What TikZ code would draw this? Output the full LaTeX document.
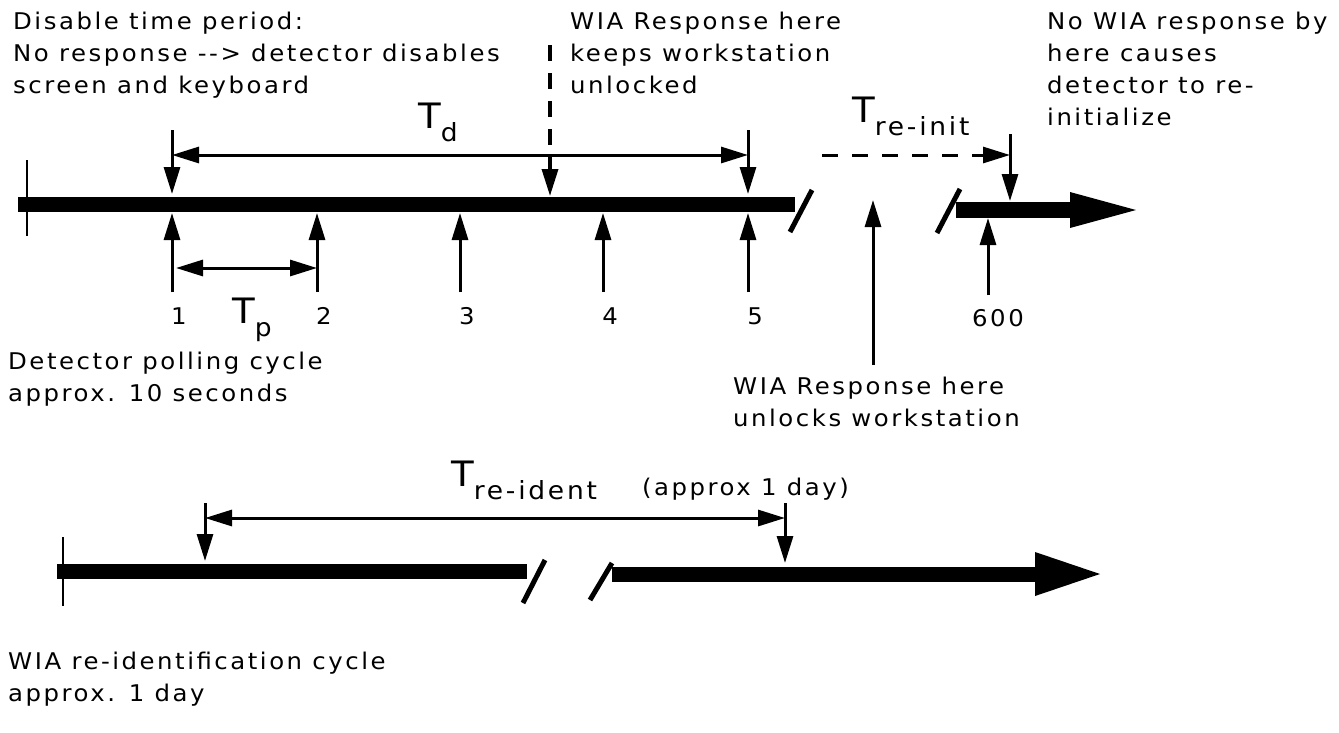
\documentclass[tikz,border=0pt]{standalone}
\usepackage{fontspec}
\setmainfont{DejaVu Sans}[LetterSpace=11,FakeStretch=1.06]
\usetikzlibrary{arrows.meta}
\tikzset{>={Triangle[length=27pt,width=16pt]}}
\tikzset{
  conn/.style={line width=3pt},
  brk/.style={line width=5pt},
  tick/.style={line width=2.5pt},
  txt/.style={anchor=north west, align=left, inner sep=0pt, font=\fontsize{23}{32}\selectfont},
  num/.style={inner sep=0pt, font=\fontsize{23}{26}\selectfont},
  tlab/.style={anchor=base west, inner sep=0pt},
}
\newcommand{\bigT}[1]{{\fontsize{35}{40}\selectfont T}\raisebox{-13pt}{\fontsize{25}{28}\selectfont #1}}

\begin{document}
\begin{tikzpicture}[x=1pt,y=-1pt]
  \useasboundingbox (0,0) rectangle (1339,732);

  % upper time line
  \fill (18,197) rectangle (795,212);
  \draw[tick] (27,160) -- (27,236);
  \draw[brk] (790,232) -- (812,190);
  \draw[brk] (937,233) -- (960,189);
  \fill (956,202) rectangle (1070,218);
  \fill (1070,192) -- (1136,210) -- (1070,228) -- cycle;

  % polling points
  \foreach \x/\n in {172/1,317/2,460/3,603/4,748/5}{
    \coordinate (p\n) at (\x,213);
    \coordinate (q\n) at (\x,292);
    \draw[conn,->] (q\n) -- (p\n);
    \node[num] (n\n) at (\x+7,316) {\n};
  }
  \coordinate (p600) at (988,218);
  \coordinate (q600) at (988,295);
  \draw[conn,->] (q600) -- (p600);
  \node[num] (n600) at (998,318) {600};

  % disable period
  \coordinate (dl) at (172,130);
  \coordinate (dlt) at (172,194);
  \coordinate (dr) at (748,130);
  \coordinate (drt) at (748,194);
  \draw[conn,->] (dl) -- (dlt);
  \draw[conn,->] (dr) -- (drt);
  \draw[conn,<->] (172,155) -- (748,155);
  \node[tlab] (Td) at (418,128) {\bigT{d}};

  % Tp
  \draw[conn,<->] (176,268) -- (317,268);
  \node[tlab] (Tp) at (232,323) {\bigT{p}};

  % WIA response keeps unlocked
  \coordinate (wk) at (550,45);
  \coordinate (wkt) at (550,196);
  \draw[line width=3.5pt,dash pattern=on 16pt off 12pt,->] (wk) -- (wkt);

  % WIA response unlocks
  \coordinate (wu) at (873,365);
  \coordinate (wut) at (873,200);
  \draw[conn,->] (wu) -- (wut);

  % re-init
  \coordinate (ri) at (1010,134);
  \coordinate (rit) at (1010,201);
  \draw[conn,->] (ri) -- (rit);
  \draw[conn,dash pattern=on 16pt off 14pt,->] (822,155) -- (1010,155);
  \node[tlab] (Tri) at (852,122) {\bigT{re-init}};

  % texts
  \node[txt] (dis) at (13,12) {Disable time period:\\No response -{}-> detector disables\\screen and keyboard};
  \node[txt] (keep) at (570,12) {WIA Response here\\keeps workstation\\unlocked};
  \node[txt] (noresp) at (1047,12) {No WIA response by\\here causes\\detector to re-\\initialize};
  \node[txt] (poll) at (8,352) {Detector polling cycle\\approx. 10 seconds};
  \node[txt] (unl) at (733,377) {WIA Response here\\unlocks workstation};

  % lower time line
  \fill (57,564) rectangle (527,579);
  \draw[tick] (63,537) -- (63,606);
  \draw[brk] (523,603) -- (545,560);
  \draw[brk] (590,600) -- (612,563);
  \fill (612,567) rectangle (1035,582);
  \fill (1035,552) -- (1100,574) -- (1035,596) -- cycle;

  \coordinate (ra) at (205,503);
  \coordinate (rat) at (205,561);
  \coordinate (rb) at (785,503);
  \coordinate (rbt) at (785,563);
  \draw[conn,->] (ra) -- (rat);
  \draw[conn,->] (rb) -- (rbt);
  \draw[conn,<->] (205,518) -- (785,518);
  \node[tlab] (Trid) at (451,486) {\bigT{re-ident}};
  \node[anchor=base west, inner sep=0pt, font=\fontsize{23}{26}\selectfont] (day) at (642,495) {(approx 1 day)};

  \node[txt] (reid) at (8,652) {WIA re-identification cycle\\approx. 1 day};
\end{tikzpicture}
\end{document}
